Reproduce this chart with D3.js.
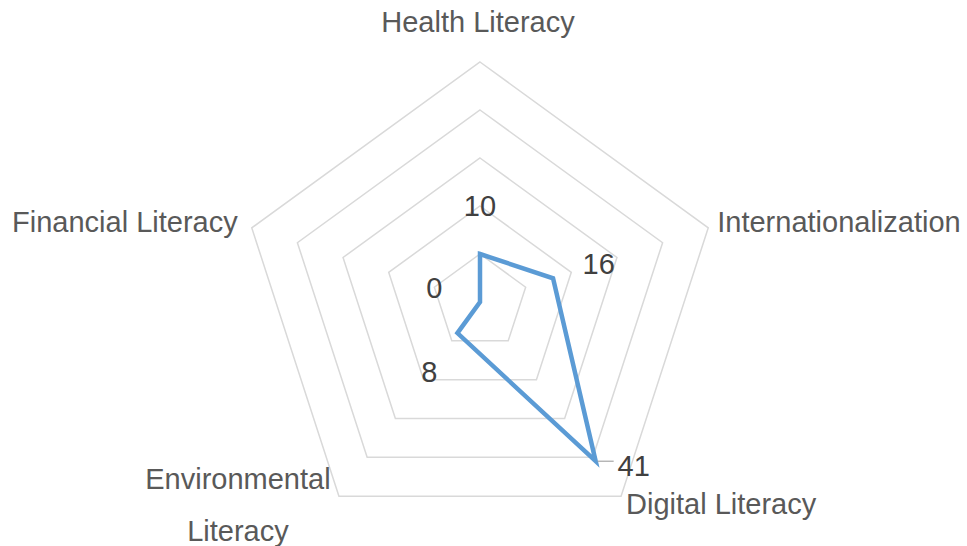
<!DOCTYPE html>
<html>
<head>
<meta charset="utf-8">
<script src="https://cdn.jsdelivr.net/npm/d3@7"></script>
<style>
  body { margin: 0; background: #fff; }
  svg { display: block; font-family: "Liberation Sans", Arial, Helvetica, sans-serif; }
</style>
</head>
<body>
<script>
// radar data
const categories = ["Health Literacy", "Internationalization", "Digital Literacy", "Environmental Literacy", "Financial Literacy"];
const values = [10, 16, 41, 8, 0];
const ringTicks = [10, 20, 30, 40, 50];

const W = 967, H = 546;
const cx = 480, cy = 302, R = 240;

const svg = d3.select("body").append("svg")
  .attr("width", W)
  .attr("height", H);

const r = d3.scaleLinear().domain([0, 50]).range([0, R]);
const angle = d3.scalePoint().domain(categories).range([0, 2 * Math.PI * 4 / 5]);

function pt(cat, v) {
  const a = angle(cat);
  return [cx + r(v) * Math.sin(a), cy - r(v) * Math.cos(a)];
}

const g = svg.append("g");

// rings
g.selectAll("polygon.ring")
  .data(ringTicks)
  .join("polygon")
  .attr("class", "ring")
  .attr("points", t => categories.map(c => pt(c, t).join(",")).join(" "))
  .attr("fill", "none")
  .attr("stroke", "#d9d9d9")
  .attr("stroke-width", 1.5);

// series line
const line = d3.line().curve(d3.curveLinearClosed);
g.append("path")
  .attr("d", line(categories.map((c, i) => pt(c, values[i]))))
  .attr("fill", "none")
  .attr("stroke", "#5b9bd5")
  .attr("stroke-width", 4.5)
  .attr("stroke-linejoin", "miter");

// data labels
categories.forEach((c, i) => {
  const a = angle(c);
  const p = pt(c, values[i]);
  let x = p[0] + 48 * Math.sin(a);
  let y = p[1] - 48 * Math.cos(a);
  if (c == "Digital Literacy") {
    // moved label with leader
    x = p[0] + 38;
    y = p[1] + 4;
    g.append("line")
      .attr("x1", p[0] + 2).attr("y1", p[1])
      .attr("x2", p[0] + 18).attr("y2", p[1])
      .attr("stroke", "#a6a6a6")
      .attr("stroke-width", 1.2);
  }
  g.append("text")
    .attr("x", x)
    .attr("y", y)
    .attr("dy", "0.36em")
    .attr("text-anchor", "middle")
    .attr("font-size", 29)
    .attr("fill", "#404040")
    .text(values[i]);
});

// category labels
const labelG = g.append("g").attr("font-size", 29).attr("fill", "#595959");
categories.forEach((c, i) => {
  const v = pt(c, 50);
  let t;
  if (i == 0) {
    t = labelG.append("text").attr("x", v[0] - 2).attr("y", v[1] - 40).attr("text-anchor", "middle").text(c);
  } else if (i == 1) {
    t = labelG.append("text").attr("x", v[0] + 9).attr("y", v[1] - 6).attr("text-anchor", "start").text(c);
  } else if (i == 2) {
    t = labelG.append("text").attr("x", v[0] + 5).attr("y", v[1] + 7).attr("text-anchor", "start").text(c);
  } else if (i == 3) {
    const words = c.split(" ");
    t = labelG.append("text").attr("text-anchor", "middle");
    words.forEach((w, k) => {
      t.append("tspan").attr("x", v[0] - 101).attr("y", v[1] - 18 + k * 52).attr("dy", "0.36em").text(w);
    });
    return;
  } else {
    t = labelG.append("text").attr("x", v[0] - 14).attr("y", v[1] - 6).attr("text-anchor", "end").text(c);
  }
  t.attr("dy", "0.36em");
});
</script>
</body>
</html>
